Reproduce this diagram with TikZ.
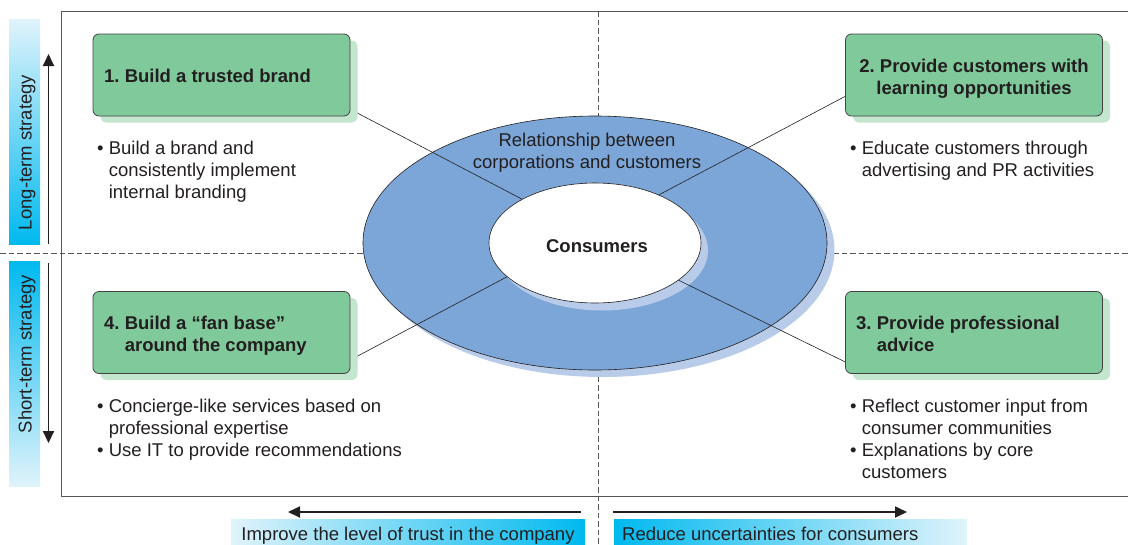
\documentclass[tikz,border=0pt]{standalone}
\usepackage{fontspec}
\setmainfont{Liberation Sans}
\usetikzlibrary{arrows.meta,shadows,shapes.geometric}
\frenchspacing

\definecolor{boxgreen}{HTML}{80C99B}
\definecolor{shadegreen}{HTML}{C4E5CE}
\definecolor{ringblue}{HTML}{7BA6D7}
\definecolor{shadeblue}{HTML}{B8CCE9}
\definecolor{barcyan}{HTML}{00B9EF}
\definecolor{barpale}{HTML}{E0F3FB}
\definecolor{ink}{HTML}{231F20}
\definecolor{rulegray}{HTML}{555555}

% stacked lines, baseline at the first line
\newcommand\leftlines[1]{\begin{tabular}[t]{@{}l@{}}#1\end{tabular}}
\newcommand\midlines[1]{\begin{tabular}[t]{@{}c@{}}#1\end{tabular}}
\newcommand\bul{\textbullet\ }
\newcommand\bulgap{\hphantom{\textbullet\ }}

\pgfdeclarelayer{back}
\pgfdeclarelayer{mid}
\pgfsetlayers{back,mid,main}

\tikzset{
  body/.style={font=\fontsize{18.5}{22}\selectfont, text=ink, inner sep=0pt},
  txt/.style={body, anchor=base west},
  ctxt/.style={body, anchor=base},
  bold txt/.style={txt, font=\fontsize{18.5}{22}\selectfont\bfseries},
  bold ctxt/.style={ctxt, font=\fontsize{18.5}{22}\selectfont\bfseries},
  strategybox/.style={draw=ink!85, line width=0.8pt, fill=boxgreen,
    rounded corners=6pt, minimum width=257pt, minimum height=82pt, inner sep=0pt,
    drop shadow={shadow xshift=7.5pt, shadow yshift=-6.5pt, fill=shadegreen, opacity=1}},
  link/.style={draw=ink, line width=0.6pt},
  guide/.style={draw=rulegray, line width=0.9pt, dash pattern=on 5.5pt off 3pt},
  bigarrow/.style={draw=ink, line width=1.8pt, -{Triangle[length=12pt,width=11pt]}},
}

\begin{document}
\begin{tikzpicture}[x=1pt,y=-1pt]
\useasboundingbox (0,0) rectangle (1128,544);
\clip (0,0) rectangle (1128,544);

\begin{pgfonlayer}{back}
  % open frame and quadrant guides
  \draw[rulegray, line width=0.9pt] (1128,11) -- (61,11) -- (61,496) -- (1128,496);
  \draw[guide] (0,253.3) -- (1128,253.3);
  \draw[guide] (598,11) -- (598,544);

  % outer ring with its shadow
  \node[ellipse, draw=ink, line width=0.6pt, fill=ringblue,
        minimum width=464pt, minimum height=254pt, inner sep=0pt,
        drop shadow={shadow xshift=7.5pt, shadow yshift=-7pt, fill=shadeblue, opacity=1}]
        (ring) at (595,243) {};
  % shadow of the inner ellipse
  \node[ellipse, fill=shadeblue, minimum width=212pt, minimum height=120pt, inner sep=0pt]
        (consshadow) at (602,250.5) {};
\end{pgfonlayer}

% inner ellipse
\node[ellipse, draw=ink, line width=0.6pt, fill=white,
      minimum width=212pt, minimum height=120pt, inner sep=0pt]
      (cons) at (595,243) {};
\node[bold ctxt] (consname) at (597,252) {Consumers};

\node[ctxt] (relation) at (587,146) {\midlines{Relationship between\\corporations and customers}};

% strategy boxes
\node[strategybox] (b1) at (221.5,75) {};
\node[strategybox] (b2) at (974,75) {};
\node[strategybox] (b3) at (974,332.5) {};
\node[strategybox] (b4) at (221.5,332.5) {};

\node[bold txt] (t1) at (104,82) {1. Build a trusted brand};
\node[bold ctxt] (t2) at (974,72) {\midlines{2. Provide customers with\\learning opportunities}};
\node[bold txt] (t3) at (856,329) {\leftlines{3. Provide professional\\\hphantom{3. }advice}};
\node[bold txt] (t4) at (104,329) {\leftlines{4. Build a “fan base”\\\hphantom{4. }around the company}};

% connectors from the boxes to the consumers
\begin{pgfonlayer}{mid}
  \draw[link] ([yshift=7pt]b1.south east) -- (cons.149);
  \draw[link] ([yshift=20pt]b2.south west) -- (cons.37);
  \draw[link] ([yshift=12pt]b3.south west) -- (cons.336);
  \draw[link] ([yshift=14pt]b4.south east) -- (cons.201);
\end{pgfonlayer}

% measures under each box
\node[txt] (m1) at (97,154) {\leftlines{\bul Build a brand and\\\bulgap consistently implement\\\bulgap internal branding}};
\node[txt] (m2) at (850,154) {\leftlines{\bul Educate customers through\\\bulgap advertising and PR activities}};
\node[txt] (m3) at (850,412) {\leftlines{\bul Reflect customer input from\\\bulgap consumer communities\\\bul Explanations by core\\\bulgap customers}};
\node[txt] (m4) at (97,412) {\leftlines{\bul Concierge-like services based on\\\bulgap professional expertise\\\bul Use IT to provide recommendations}};

% strategy axis on the left
\shade[top color=barpale, bottom color=barcyan] (9,19) rectangle (40,244);
\shade[top color=barcyan, bottom color=barpale] (9,261) rectangle (40,486);
\node[ctxt, rotate=90] (longterm) at (31.5,152.5) {Long-term strategy};
\node[ctxt, rotate=90] (shortterm) at (31.5,354) {Short-term strategy};
\coordinate (lt0) at (48.5,244);
\coordinate (lt1) at (48.5,54);
\coordinate (st0) at (48.5,263);
\coordinate (st1) at (48.5,443);
\draw[bigarrow] (lt0) -- (lt1);
\draw[bigarrow] (st0) -- (st1);

% goal axis at the bottom
\shade[left color=barpale, right color=barcyan] (231,519) rectangle (585,544);
\shade[left color=barcyan, right color=barpale] (614,519) rectangle (967,544);
\node[ctxt] (trust) at (408,540) {Improve the level of trust in the company};
\node[txt] (uncert) at (622,540) {Reduce uncertainties for consumers};
\coordinate (ga0) at (581,512);
\coordinate (ga1) at (288,512);
\coordinate (gb0) at (613,512);
\coordinate (gb1) at (907,512);
\draw[bigarrow] (ga0) -- (ga1);
\draw[bigarrow] (gb0) -- (gb1);
\end{tikzpicture}
\end{document}
